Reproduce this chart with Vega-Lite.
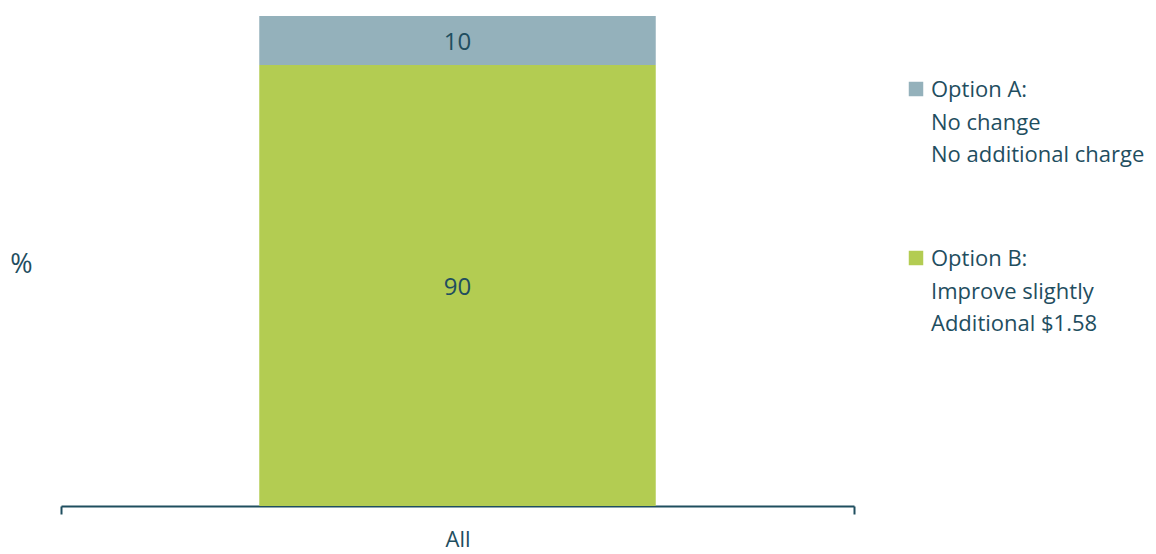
{
  "$schema": "https://vega.github.io/schema/vega-lite/v6.json",
  "autosize": {"type": "none"},
  "padding": {"left": 61, "top": 16, "right": 302, "bottom": 48},
  "width": 793,
  "height": 490,
  "background": "white",
  "config": {"view": {"stroke": null}, "font": "Open Sans"},
  "data": {"values": [
    {"group": "All", "series": "Option A:|No change|No additional charge", "value": 10},
    {"group": "All", "series": "Option B:|Improve slightly|Additional $1.58", "value": 90}
  ]},
  "transform": [
    {"stack": "value", "groupby": ["group"], "sort": [{"field": "series", "order": "descending"}], "as": ["v0", "v1"]},
    {"calculate": "(datum.v0 + datum.v1) / 2", "as": "mid"}
  ],
  "encoding": {
    "x": {"field": "group", "type": "nominal", "scale": {"paddingInner": 0, "paddingOuter": 0},
      "axis": {"title": null, "labelAngle": 0, "labelFontSize": 22, "labelColor": "#1f4e5f", "labelPadding": 15,
        "domainColor": "#1f4e5f", "domainWidth": 2, "tickColor": "#1f4e5f", "tickWidth": 2, "tickSize": 8,
        "tickBand": "extent", "grid": false}}
  },
  "layer": [
    {
      "mark": {"type": "bar", "width": {"band": 0.5}},
      "encoding": {
        "y": {"field": "v0", "type": "quantitative", "scale": {"domain": [0, 100], "nice": false},
          "axis": {"title": "%", "titleAngle": 0, "titleFontSize": 27, "titleFontWeight": "normal", "titleColor": "#1f4e5f",
            "titleX": -40, "titleY": 248, "titleAlign": "center", "titleBaseline": "middle",
            "labels": false, "ticks": false, "domain": false, "grid": false}},
        "y2": {"field": "v1"},
        "color": {"field": "series", "type": "nominal",
          "scale": {"domain": ["Option A:|No change|No additional charge", "Option B:|Improve slightly|Additional $1.58"], "range": ["#94b1bb", "#b3cc52"]},
          "legend": {"title": null, "orient": "none", "legendX": 844, "legendY": 62,
            "labelExpr": "split(datum.label, '|')", "labelFontSize": 22, "labelColor": "#1f4e5f", "labelLimit": 400,
            "symbolType": "square", "symbolSize": 210, "symbolStrokeWidth": 0, "symbolOpacity": 1, "rowPadding": 81, "labelOffset": 4,
            "labelBaseline": "top",
            "encode": {"labels": {"update": {"lineHeight": {"value": 32.5}, "dy": {"value": -9}}}}}}
      }
    },
    {
      "mark": {"type": "text", "fontSize": 24, "color": "#1f4e5f", "baseline": "middle", "dy": 2},
      "encoding": {
        "y": {"field": "mid", "type": "quantitative"},
        "text": {"field": "value", "type": "quantitative"}
      }
    }
  ]
}
